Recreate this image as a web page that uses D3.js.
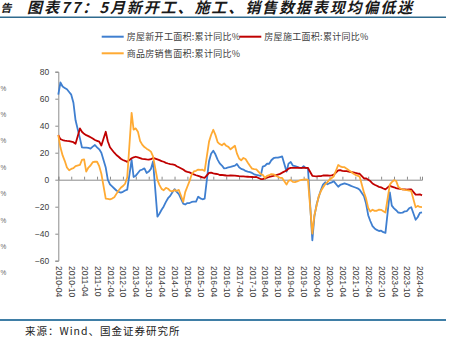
<!DOCTYPE html>
<html><head><meta charset="utf-8">
<script src="https://cdn.jsdelivr.net/npm/d3@7"></script>
<style>
html,body{margin:0;padding:0;background:#fff;}
svg{display:block;}
</style></head>
<body><svg id="c" width="449" height="353"></svg>
<script>
const titleText = "图表77：5月新开工、施工、销售数据表现均偏低迷";
const sourceText = "来源：Wind、国金证券研究所";
const seriesNames = ["房屋新开工面积:累计同比%", "房屋施工面积:累计同比%", "商品房销售面积:累计同比%"];
const yTicks = [-60, -40, -20, 0, 20, 40, 60, 80];
const xTickLabels = ["2010-04","2010-10","2011-04","2011-10","2012-04","2012-10","2013-04","2013-10",
  "2014-04","2014-10","2015-04","2015-10","2016-04","2016-10","2017-04","2017-10","2018-04","2018-10",
  "2019-04","2019-10","2020-04","2020-10","2021-04","2021-10","2022-04","2022-10","2023-04","2023-10","2024-04"];

// cumulative YoY, monthly (no January), 2010-04 .. 2024-05
const newStarts = [
  63, 72, 69, 68, 67, 65, 63, 57, 44,
  30.6, 24, 23.7, 23.7, 23.5, 23, 24.5, 25.7, 24, 22.5, 20,
  9, 0, -3.5, -5, -6.5, -8, -9, -9.6, -9, -8, -7.3,
  14.6, 2, 3, 5, 7, 7.5, 8.4, 5, 6, 8, 13.5,
  -27.4, -25.2, -22.3, -19.8, -16.4, -13.7, -12, -9.3, -7, -9, -10.7,
  -17.7, -18.4, -17.3, -17.3, -16.5, -16.3, -16.3, -12.6, -13.8, -14.5, -14.0,
  13.7, 19.2, 21.4, 18.8, 14.9, 12.1, 10.5, 8.4, 8.6, 9.2, 9.5,
  10.4, 11.6, 9.2, 8.0, 7.5, 6.5, 6.0, 5.6, 5.0, 4.0, 3.5,
  2.9, 9.7, 10.3, 11.8, 11.8, 14.4, 15.9, 16.4, 16.3, 16.8, 17.2,
  6.0, 11.9, 13.1, 10.5, 10.1, 9.5, 8.9, 8.6, 10.0, 8.6, 8.5,
  -44.9, -27.2, -18.4, -12.8, -7.6, -3.6, -1.9, -3.4, -2.6, -2.0, -1.2,
  -5.2, -3.9, -3.3, -2.7, -3.2, -3.8, -4.6, -5.2, -5.8, -6.4, -7.5,
  -12.2, -17.5, -26.3, -30.6, -34.4, -36.1, -37.2, -38.0, -37.8, -38.9, -39.4,
  -9.4, -19.2, -21.2, -22.6, -24.3, -24.5, -24.4, -23.4, -23.2, -21.2, -20.4,
  -29.7, -27.8, -24.6, -24.2
];
const construction = [
  33, 30, 29.4, 29, 28.7, 28.5, 28.2, 27.8, 26.6,
  38, 35.5, 34, 33, 32.3, 31.4, 30.5, 29.4, 28.8, 28.2, 25.3,
  35.5, 28.5, 24, 22, 20, 18.3, 17, 15.5, 14.6, 14, 13.2,
  15.9, 16.5, 17, 16.5, 16, 15.5, 15.3, 15, 14.8, 15.2, 16.1,
  15.0, 14.5, 13.8, 13.3, 12.5, 12.0, 11.6, 11.4, 11.0, 10.0, 9.2,
  7.5, 6.4, 5.8, 5.4, 4.6, 3.9, 3.3, 2.8, 2.3, 1.7, 1.3,
  5.0, 5.2, 4.7, 4.4, 4.2, 3.5, 3.5, 3.3, 3.1, 3.0, 3.2,
  3.0, 2.8, 2.6, 2.5, 2.4, 2.3, 2.2, 2.1, 2.0, 1.9, 2.0,
  0.5, 0.4, 1.0, 1.5, 2.0, 2.4, 2.8, 3.3, 3.8, 4.3, 5.2,
  6.8, 8.2, 8.8, 8.8, 8.8, 9.0, 8.8, 8.7, 9.0, 8.7, 8.7,
  2.9, 2.6, 2.5, 2.6, 2.6, 3.1, 3.1, 3.1, 3.0, 3.2, 3.7,
  6.9, 7.1, 6.5, 6.3, 6.4, 6.0, 5.7, 5.5, 5.0, 4.6, 4.4,
  0.9, 1.0, 0.0, -1.0, -2.8, -3.7, -4.5, -5.3, -5.7, -6.5, -7.2,
  -4.4, -5.2, -5.6, -6.2, -6.6, -6.8, -7.1, -7.1, -7.3, -7.2, -7.2,
  -11.0, -11.1, -10.8, -11.6
];
const sales = [
  33, 24, 18, 14, 9, 7, 8, 8.5, 10.1,
  11, 14.6, 15, 6, 9, 10.5, 13, 13.3, 13.3, 10, 4.4,
  -14.0, -14.2, -14.5, -14, -13, -10.5, -8, -6, -4.7, -3, 1.8,
  49.5, 37.1, 38, 35.6, 28.7, 26, 24.2, 23, 22, 20.8, 17.3,
  -0.1, -3.8, -6.8, -7.8, -6.0, -6.7, -8.3, -8.6, -7.7, -8.2, -7.6,
  -16.3, -9.2, -5.0, -1.1, 3.9, 6.1, 6.6, 7.5, 7.2, 7.4, 6.5,
  28.2, 33.1, 37.0, 33.2, 27.9, 26.4, 25.5, 26.9, 25.1, 24.3, 22.5,
  25.1, 19.5, 15.7, 14.3, 16.1, 15.3, 12.7, 10.3, 8.2, 7.9, 7.7,
  4.1, 3.6, 1.3, 2.9, 3.3, 4.2, 4.0, 2.9, 2.2, 1.4, 1.3,
  -3.6, -0.9, -0.3, -1.6, -1.8, -1.3, -0.6, -0.1, 0.1, 0.2, -0.1,
  -39.9, -26.3, -19.3, -12.3, -8.4, -5.8, -3.3, -1.8, 0.0, 1.3, 2.6,
  10.9, 9.9, 9.3, 9.3, 8.2, 7.0, 5.9, 4.6, 3.6, 3.0, 2.3,
  -9.6, -13.8, -20.9, -23.6, -22.2, -23.1, -23.0, -22.2, -22.3, -23.3, -24.3,
  -3.6, -1.8, -0.4, -0.9, -5.3, -6.5, -7.1, -7.5, -7.8, -8.0, -8.5,
  -20.5, -19.4, -20.2, -20.3
];

// month list (Wind publishes no January figure)
const months = [];
for (let y = 2010; y <= 2024; y++) {
  for (let m = 1; m < 12; m++) {
    if (y === 2010 && m < 3) continue;
    if (y === 2024 && m > 4) continue;
    months.push(new Date(Date.UTC(y, m, 1)));
  }
}

const colors = ["#3F7FD0", "#C00000", "#FFAA33"];
const seriesData = [newStarts, construction, sales];

const svg = d3.select("#c");
const cjk = "'Noto Sans CJK SC', 'Noto Sans', sans-serif";
const num = "'Liberation Sans', Arial, sans-serif";

const parseLabel = s => new Date(Date.UTC(+s.slice(0,4), +s.slice(5,7) - 1, 1));
const x = d3.scaleUtc()
  .domain([new Date(Date.UTC(2010, 3, 1)), new Date(Date.UTC(2024, 4, 1))])
  .range([58.3, 422]);
const y = d3.scaleLinear().domain([-60, 80]).range([260.7, 71.7]);

// fragments of neighbouring page content at the left edge
svg.append("text").attr("x", 0.5).attr("y", 12)
  .style("font-family", cjk).style("font-size", "11px").style("font-weight", "bold")
  .style("font-style", "italic").attr("fill", "#222").text("告");
[88, 114, 140, 167, 193, 220, 246, 272].forEach(yy => {
  svg.append("text").attr("x", 0.5).attr("y", yy + 2.5)
    .style("font-family", num).style("font-size", "6.5px").attr("fill", "#666").text("%");
});

// title
svg.append("text").attr("x", 27).attr("y", 13.2)
  .style("font-family", cjk).style("font-size", "15px").style("font-weight", "bold")
  .style("letter-spacing", "1.9px")
  .style("font-style", "italic").attr("fill", "#1a1a1a").text(titleText);
svg.append("line").attr("x1", 0).attr("x2", 446).attr("y1", 17.3).attr("y2", 17.3)
  .attr("stroke", "#2E6A8E").attr("stroke-width", 1.5);

// legend
const legendPos = [[101.7, 36.7], [239.3, 36.7], [101.7, 53.3]];
seriesNames.forEach((name, i) => {
  const [lx, ly] = legendPos[i];
  svg.append("line").attr("x1", lx).attr("x2", lx + 22).attr("y1", ly).attr("y2", ly)
    .attr("stroke", colors[i]).attr("stroke-width", 2);
  svg.append("text").attr("x", lx + 25).attr("y", ly + 3.2)
    .style("font-family", cjk).style("font-size", "9px").style("letter-spacing", "0.3px")
    .attr("fill", "#404040").text(name);
});

// y axis
const yAxis = svg.append("g").attr("transform", "translate(58.3,0)")
  .call(d3.axisLeft(y).tickValues(yTicks).tickSize(3).tickPadding(6));
yAxis.select(".domain").attr("stroke", "#8c8c8c");
yAxis.selectAll(".tick line").attr("stroke", "#8c8c8c");
yAxis.selectAll("text").style("font-family", num).style("font-size", "8.5px").attr("fill", "#404040");

// x axis on zero line, ticks pointing up
const xTickDates = xTickLabels.map(parseLabel);
const xAxis = svg.append("g").attr("transform", `translate(0,${y(0)})`)
  .call(d3.axisBottom(x).tickValues(xTickDates).tickSize(-3).tickFormat(""));
xAxis.select(".domain").attr("stroke", "#8c8c8c");
xAxis.selectAll(".tick line").attr("stroke", "#8c8c8c");

// x labels at bottom, rotated
const xLab = svg.append("g").attr("transform", "translate(0,266)")
  .call(d3.axisBottom(x).tickValues(xTickDates).tickSize(0).tickPadding(0)
    .tickFormat((d, i) => xTickLabels[i]));
xLab.select(".domain").remove();
xLab.selectAll("text")
  .attr("transform", "rotate(90)").attr("x", 0).attr("y", 0).attr("dy", "0.35em")
  .style("text-anchor", "start")
  .style("font-family", num).style("font-size", "8.5px").attr("fill", "#404040");

// lines
const line = d3.line().x((d, i) => x(months[i])).y(d => y(d));
seriesData.forEach((vals, i) => {
  svg.append("path").datum(vals).attr("d", line)
    .attr("fill", "none").attr("stroke", colors[i]).attr("stroke-width", 1.8)
    .attr("stroke-linejoin", "round");
});

// bottom rule and source
svg.append("line").attr("x1", 0).attr("x2", 446).attr("y1", 320).attr("y2", 320)
  .attr("stroke", "#3F7EA6").attr("stroke-width", 2);
svg.append("text").attr("x", 25).attr("y", 335)
  .style("font-family", cjk).style("font-size", "10.5px").style("letter-spacing", "1px")
  .attr("fill", "#222").text(sourceText);
</script>
</body></html>
